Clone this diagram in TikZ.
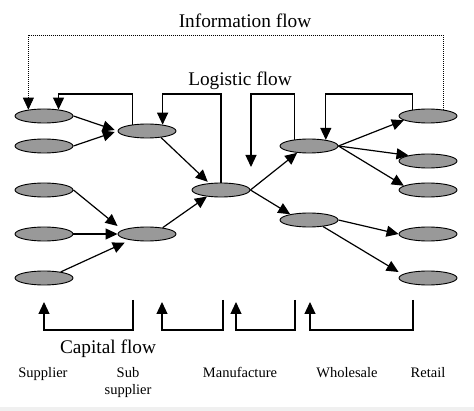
\documentclass[tikz,border=0pt]{standalone}
\usepackage{fontspec}
\setmainfont{Liberation Serif}
\usetikzlibrary{shapes.geometric,arrows.meta}
\definecolor{nodegray}{gray}{0.6}
\tikzset{
  firm/.style={ellipse,draw,line width=0.9pt,fill=nodegray,
    minimum width=58pt,minimum height=14pt,inner sep=0pt},
  flow/.style={line width=1.2pt,-{Triangle[length=12pt,width=11pt]}},
  bigtext/.style={font=\fontsize{19.3}{22}\selectfont,inner sep=0pt,anchor=base},
  tiertext/.style={font=\fontsize{14.5}{17}\selectfont,inner sep=0pt,anchor=base,align=center}
}
\begin{document}
\begin{tikzpicture}[x=1pt,y=-1pt]
        \useasboundingbox (0,0) rectangle (474,411);
        \fill[black!6] (0,407) rectangle (474,411);
        % supplier column
        \node[firm] (s1) at (44,116) {};
        \node[firm] (s2) at (44,146) {};
        \node[firm] (s3) at (44,190) {};
        \node[firm] (s4) at (44,234) {};
        \node[firm] (s5) at (44,278) {};
        % sub supplier, manufacture, wholesale
        \node[firm] (ss1) at (147,131) {};
        \node[firm] (ss2) at (147,234) {};
        \node[firm] (m) at (221,190) {};
        \node[firm] (w1) at (309,146) {};
        \node[firm] (w2) at (309,220) {};
        % retail column
        \node[firm] (r1) at (428,116) {};
        \node[firm] (r2) at (428,161) {};
        \node[firm] (r3) at (428,190) {};
        \node[firm] (r4) at (428,234) {};
        \node[firm] (r5) at (428,278) {};
        % product arrows
        \draw[flow,shorten >=3pt] (s1.east) -- (ss1.west);
        \draw[flow,shorten >=3pt] (s2.east) -- (ss1.west);
        \draw[flow] (s3.east) -- ([yshift=8pt]ss2.west);
        \draw[flow] (s4.east) -- (ss2.west);
        \draw[flow,shorten >=6pt] (s5.20) -- (ss2.200);
        \draw[flow,shorten >=2pt] (ss1.-25) -- (m.150);
        \draw[flow] (ss2.22) -- (m.205);
        \draw[flow] (m.east) -- (w1.210);
        \draw[flow] (m.east) -- (w2.163);
        \foreach \r/\a in {r1/190,r2/164,r3/170}
          \draw[flow] (w1.east) -- (\r.\a);
        \draw[flow] (w2.east) -- (r4.west);
        \draw[flow] (w2.-25) -- ([yshift=6pt]r5.west);
        % logistic flow
        \coordinate (ltop) at (0,94);
        \coordinate (mtip) at (251,167);
        \draw[flow] (ss1.156) |- (ltop -| s1.24) -- (s1.24);
        \draw[flow] (m.north) |- (ltop -| ss1.22) -- (ss1.22);
        \draw[flow] (w1.156) |- (ltop -| mtip) -- (mtip);
        \draw[flow] (r1.158) |- (ltop -| w1.20) -- (w1.20);
        % information flow
        \coordinate (itop) at (0,35);
        \draw[line width=0.7pt,dash pattern=on 1pt off 1pt,
              -{Triangle[length=12pt,width=11pt]}]
            (r1.22) |- (itop -| s1.158) -- (s1.158);
        % capital flow
        \foreach \a/\b in {44/133,162/223,236/295,310/413}
          \draw[flow] (\b,300) |- (\a,330) -- (\a,302);
        % labels
        \node[bigtext] (info) at (245,28) {Information flow};
        \node[bigtext] (logi) at (240,86) {Logistic flow};
        \node[bigtext] (capi) at (108,354) {Capital flow};
        \node[tiertext] (tsup) at (43,378) {Supplier};
        \node[tiertext] (tsub) at (128,395) {Sub\\supplier};
        \node[tiertext] (tman) at (240,378) {Manufacture};
        \node[tiertext] (twho) at (347,378) {Wholesale};
        \node[tiertext] (tret) at (428,378) {Retail};
\end{tikzpicture}
\end{document}
